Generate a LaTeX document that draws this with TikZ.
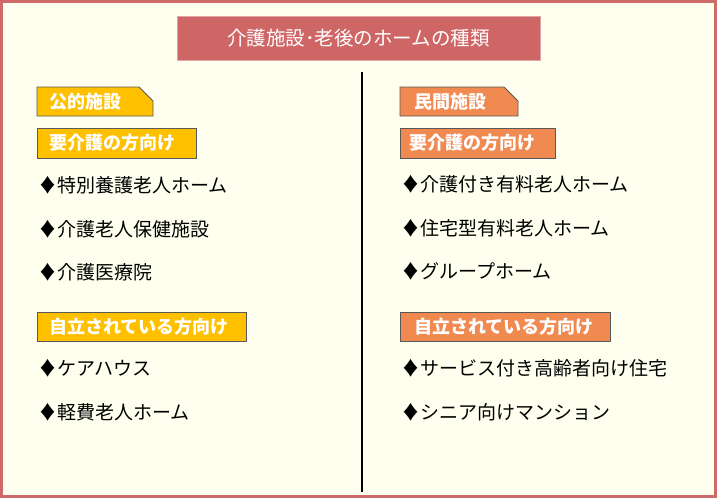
\documentclass[tikz,border=0pt]{standalone}
\usepackage{fontspec}
\newfontfamily\cjk{Noto Sans CJK JP}
\definecolor{bg}{HTML}{FFFFF0}
\definecolor{frame}{HTML}{D06A6A}
\definecolor{titlef}{HTML}{CF6666}
\definecolor{yel}{HTML}{FFC000}
\definecolor{ora}{HTML}{F08A50}
\begin{document}
\begin{tikzpicture}[x=1pt,y=-1pt,
  item/.style={anchor=west,inner sep=0pt,font=\cjk\fontsize{19}{19}\selectfont},
  tagbox/.style={draw=black!65,line width=0.8pt},
  tagtext/.style={anchor=west,inner sep=0pt,text=white,font=\cjk\bfseries\fontsize{18}{18}\selectfont}]
\useasboundingbox (0,0) rectangle (717,498);
\fill[bg] (0,0) rectangle (717,498);
\draw[frame,line width=3pt] (1.5,1.5) rectangle (715.5,496.5);
\node[fill=titlef,draw=titlef!60,minimum width=363pt,minimum height=44pt,text=white,font=\cjk\fontsize{19.5}{19.5}\selectfont] (title) at (358.5,38) {介護施設･老後のホームの種類};
\coordinate (ltop) at (362,72); \coordinate (lbot) at (362,492);
\draw[black,line width=1.3pt] (ltop) -- (lbot);
% left
\draw[tagbox,fill=yel] (37,87) -- (139,87) -- (153,101) -- (153,116) -- (37,116) -- cycle;
\node[tagtext] (pub) at (49,102) {公的施設};
\draw[tagbox,fill=yel] (37,128) rectangle (196,158);
\node[tagtext] (lc) at (49,143) {要介護の方向け};
\node[item] (l1) at (38,185) {♦特別養護老人ホーム};
\node[item] (l2) at (38,229) {♦介護老人保健施設};
\node[item] (l3) at (38,272) {♦介護医療院};
\draw[tagbox,fill=yel] (37,312) rectangle (246,341);
\node[tagtext] (li) at (49,327) {自立されている方向け};
\node[item] (l4) at (38,368) {♦ケアハウス};
\node[item] (l5) at (38,412) {♦軽費老人ホーム};
% right
\draw[tagbox,fill=ora] (400,87) -- (504,87) -- (518,101) -- (518,116) -- (400,116) -- cycle;
\node[tagtext] (pri) at (414,102) {民間施設};
\draw[tagbox,fill=ora] (400,128) rectangle (555,158);
\node[tagtext] (rc) at (409,143) {要介護の方向け};
\node[item] (r1) at (401,184) {♦介護付き有料老人ホーム};
\node[item] (r2) at (401,228) {♦住宅型有料老人ホーム};
\node[item] (r3) at (401,271) {♦グループホーム};
\draw[tagbox,fill=ora] (400,312) rectangle (610,341);
\node[tagtext] (ri) at (414,327) {自立されている方向け};
\node[item] (r4) at (401,368) {♦サービス付き高齢者向け住宅};
\node[item] (r5) at (401,412) {♦シニア向けマンション};
\end{tikzpicture}
\end{document}
